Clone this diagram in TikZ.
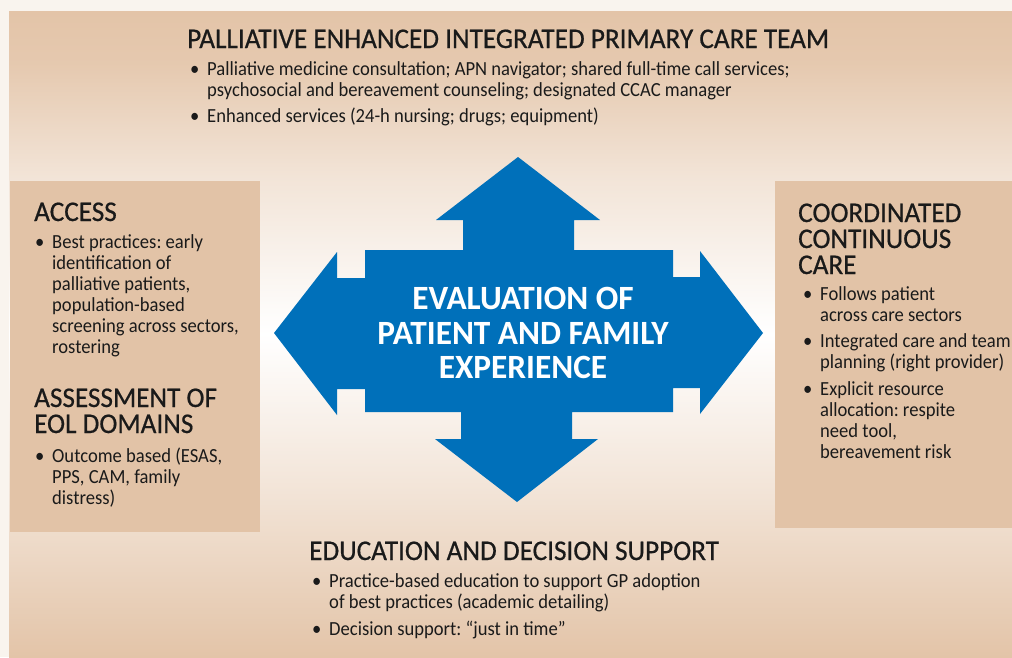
\documentclass[tikz,border=0pt]{standalone}
\usepackage{fontspec}
\setmainfont{Carlito}[FakeStretch=0.93]
\newfontfamily\headfont{Carlito}[FakeStretch=0.955, FakeBold=0.6]
\newfontfamily\evalfont{Carlito}[FakeStretch=0.98]
\usetikzlibrary{positioning}
\frenchspacing

\definecolor{pageC}{HTML}{F9F4EE}
\definecolor{tanC}{HTML}{E3C4A8}
\definecolor{boxC}{HTML}{E2C3A7}
\definecolor{arrowC}{HTML}{0070BA}
\definecolor{inkC}{HTML}{1A1A1A}

\pgfdeclareverticalshading{bgfade}{100bp}{color(0bp)=(tanC); color(25bp)=(tanC); color(38bp)=(tanC!45!white); color(50bp)=(white); color(62bp)=(tanC!45!white); color(71bp)=(tanC!92!white); color(75bp)=(tanC); color(100bp)=(tanC)}

\newcommand{\bl}{\makebox[17pt][l]{\textbullet}}
\newcommand{\ind}{\hspace*{17pt}}

% multi-line nodes sit on the baseline of their last line
\tikzset{
  heading/.style={anchor=base west, inner sep=0pt, align=left, text=inkC, font=\headfont\fontsize{28.5}{26}\selectfont},
  blurb/.style={anchor=base west, inner sep=0pt, align=left, text=inkC, font=\fontsize{20}{21}\selectfont},
  centre/.style={align=center, inner sep=0pt, text=white, font=\evalfont\bfseries\fontsize{34}{34.5}\selectfont}
}

\begin{document}
\begin{tikzpicture}[x=1pt, y=-1pt]
\useasboundingbox (0,0) rectangle (1012,657);
\fill[pageC] (0,0) rectangle (1012,657);
\shade[shading=bgfade] (9,11) rectangle (1012,657);

% side panels
\fill[boxC] (10,181) rectangle (260,532);
\fill[boxC] (775,181) rectangle (1012,528);

% four-way arrow
\fill[arrowC] (518,157) -- (600,220) -- (574,220) -- (574,250) -- (673,250) -- (673,277) -- (700,277) -- (700,251) -- (763,333) -- (700,414) -- (700,388) -- (673,388) -- (673,412) -- (572,412) -- (572,439) -- (598,439) -- (517,502) -- (435,439) -- (461,439) -- (461,412) -- (365,412) -- (365,389) -- (337,389) -- (337,415) -- (274,333) -- (337,252) -- (337,278) -- (365,278) -- (365,250) -- (463,250) -- (463,220) -- (436,220) -- cycle;
\node[centre] (eval) at (523,333) {EVALUATION OF\\PATIENT AND FAMILY\\EXPERIENCE};

% top
\node[heading] (team) at (187,48) {PALLIATIVE ENHANCED INTEGRATED PRIMARY CARE TEAM};
\node[blurb] (team1) at (190,96) {\bl Palliative medicine consultation; APN navigator; shared full-time call services;\\\ind psychosocial and bereavement counseling; designated CCAC manager};
\node[blurb] (team2) at (190,122) {\bl Enhanced services (24-h nursing; drugs; equipment)};

% left
\node[heading] (access) at (34,221) {ACCESS};
\node[blurb] (access1) at (35,353) {\bl Best practices: early\\\ind identification of\\\ind palliative patients,\\\ind population-based\\\ind screening across sectors,\\\ind rostering};
\node[heading] (assess) at (34,433) {ASSESSMENT OF\\EOL DOMAINS};
\node[blurb] (assess1) at (35,504) {\bl Outcome based (ESAS,\\\ind PPS, CAM, family\\\ind distress)};

% right
\node[heading] (coord) at (798,274) {COORDINATED\\CONTINUOUS\\CARE};
\node[blurb] (coord1) at (803,321) {\bl Follows patient\\\ind across care sectors};
\node[blurb] (coord2) at (803,368) {\bl Integrated care and team\\\ind planning (right provider)};
\node[blurb] (coord3) at (803,458) {\bl Explicit resource\\\ind allocation: respite\\\ind need tool,\\\ind bereavement risk};

% bottom
\node[heading] (edu) at (309,560) {EDUCATION AND DECISION SUPPORT};
\node[blurb] (edu1) at (312,608) {\bl Practice-based education to support GP adoption\\\ind of best practices (academic detailing)};
\node[blurb] (edu2) at (312,635) {\bl Decision support: “just in time”};
\end{tikzpicture}
\end{document}
